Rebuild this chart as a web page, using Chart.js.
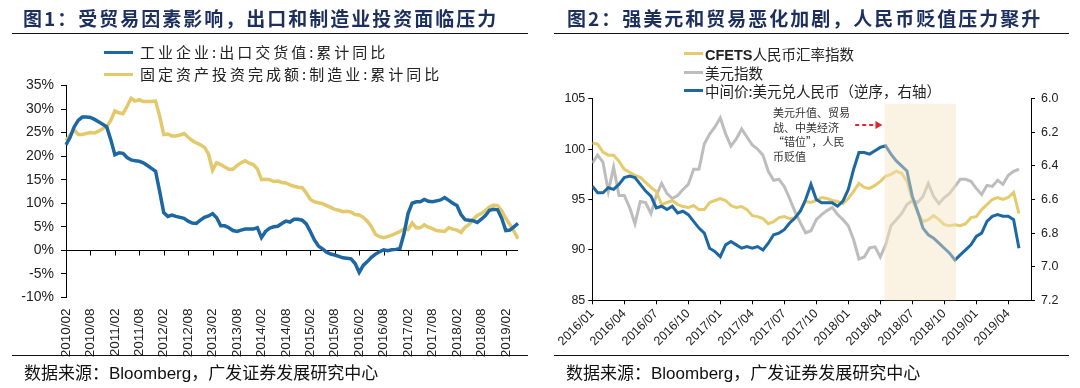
<!DOCTYPE html>
<html>
<head>
<meta charset="utf-8">
<script src="https://cdn.jsdelivr.net/npm/chart.js@4.4.1/dist/chart.umd.min.js"></script>
<style>
  body { margin:0; width:1080px; height:388px; background:#fff; position:relative; overflow:hidden;
         font-family:"Noto Sans CJK SC", sans-serif; color:#1a1a1a; }
  canvas { position:absolute; top:0; }
  .txt { position:absolute; white-space:nowrap; }
  .title { font-size:19px; font-weight:bold; letter-spacing:2px; color:#1c2f5e; line-height:24px; top:6px; }
  .rule { position:absolute; border-top:1.5px solid #111; height:0; }
  .src { font-size:17px; line-height:22px; top:361px; color:#111; }
  .src span { font-family:"Liberation Sans", Arial, sans-serif; }
  .leg { font-size:15px; line-height:20px; letter-spacing:3px; color:#222; }
  .leg2 { font-size:14.5px; line-height:19px; color:#222; }
  .swatch { position:absolute; height:3px; }
  .note { font-size:11px; line-height:14.5px; color:#333; }
</style>
</head>
<body>
<canvas id="chart1" width="540" height="388" style="left:0"></canvas>
<canvas id="chart2" width="540" height="388" style="left:540px"></canvas>

<div class="txt title" style="left:23px">图1：受贸易因素影响，出口和制造业投资面临压力</div>
<div class="rule" style="left:12px;width:516px;top:33px"></div>
<div class="swatch" style="left:104px;width:29px;top:50.5px;background:#1d67a2"></div>
<div class="txt leg" style="left:140px;top:42px">工业企业:出口交货值:累计同比</div>
<div class="swatch" style="left:104px;width:29px;top:72.5px;background:#e3c96b"></div>
<div class="txt leg" style="left:140px;top:64px">固定资产投资完成额:制造业:累计同比</div>
<div class="rule" style="left:12px;width:516px;top:355px"></div>
<div class="txt src" style="left:24px">数据来源：<span>Bloomberg</span>，广发证券发展研究中心</div>

<div class="txt title" style="left:567px">图2：强美元和贸易恶化加剧，人民币贬值压力聚升</div>
<div class="rule" style="left:554px;width:515px;top:33px"></div>
<div class="swatch" style="left:684px;width:19px;top:51.5px;background:#e5cb6c"></div>
<div class="txt leg2" style="left:705px;top:43.5px"><b style="font-family:'Liberation Sans',Arial">CFETS</b>人民币汇率指数</div>
<div class="swatch" style="left:684px;width:19px;top:70.5px;background:#bdbdbd"></div>
<div class="txt leg2" style="left:705px;top:62.5px">美元指数</div>
<div class="swatch" style="left:684px;width:19px;top:88.5px;background:#1d67a2"></div>
<div class="txt leg2" style="left:705px;top:80.5px">中间价:美元兑人民币（逆序，右轴）</div>
<div class="txt note" style="left:773px;top:105px">美元升值、贸易<br>战、中美经济<br>“错位”，人民<br>币贬值</div>
<div class="rule" style="left:554px;width:515px;top:355px"></div>
<div class="txt src" style="left:566px">数据来源：<span>Bloomberg</span>，广发证券发展研究中心</div>

<script>
// 图1: monthly, 2010/02 - 2019/05
const startYear1 = 2010, startMonth1 = 2;
const exportYoY = [
  22.4,24.0,26.2,27.6,28.3,28.3,28.2,27.8,27.3,26.8,
  26.2,23.5,20.3,20.7,20.6,19.7,19.2,19.0,18.9,18.6,
  18.0,17.4,16.8,12.5,8.0,7.2,7.5,7.2,7.0,6.8,
  6.2,5.8,5.7,6.4,7.0,7.3,7.8,6.9,5.2,5.2,
  4.8,4.2,4.0,4.3,4.5,4.5,4.5,4.8,2.7,4.0,
  4.7,5.0,5.1,5.7,6.2,6.0,6.6,6.6,6.4,5.6,
  4.0,2.2,0.9,0.3,-0.4,-0.8,-1.0,-1.3,-1.6,-1.7,
  -1.8,-2.8,-4.7,-3.2,-2.4,-1.5,-0.8,-0.3,0.1,-0.1,
  0.1,0.2,0.4,3.5,7.8,10.0,10.3,10.3,10.8,10.4,
  10.3,10.5,10.7,11.2,10.6,10.0,9.5,7.6,6.5,6.4,
  6.3,5.9,6.6,7.4,8.5,8.7,8.6,6.8,4.2,4.3,
  5.0,5.7
];
const mfgInvestYoY = [
  23.3,24.5,25.6,24.6,24.6,24.8,25.0,24.9,25.3,25.8,
  26.3,27.6,29.6,29.2,29.0,30.6,32.3,31.7,32.0,31.6,
  31.6,31.6,31.7,28.5,24.6,24.7,24.3,24.3,24.5,24.8,
  24.0,23.3,22.8,22.4,21.9,20.4,17.0,18.6,18.2,17.7,
  17.2,17.2,18.0,18.6,19.0,18.5,18.2,17.3,15.0,15.1,
  15.0,14.6,14.7,14.4,14.3,13.9,13.6,13.4,13.3,12.2,
  10.8,10.3,10.1,9.9,9.5,9.1,8.7,8.5,8.2,8.3,
  8.1,7.6,7.5,7.0,6.2,5.0,3.4,2.9,2.7,2.9,
  3.2,3.6,4.0,4.5,4.4,5.8,4.8,4.8,5.4,4.9,
  4.6,4.2,4.1,4.0,4.8,4.5,4.3,3.8,4.9,5.5,
  6.6,7.4,7.8,8.5,9.2,9.6,9.5,8.4,6.8,5.5,
  4.0,2.5
];
const tickLabels1 = ['2010/02','2010/08','2011/02','2011/08','2012/02','2012/08','2013/02','2013/08',
  '2014/02','2014/08','2015/02','2015/08','2016/02','2016/08','2017/02','2017/08','2018/02','2018/08','2019/02'];

// 图2: half-month samples from 2016/01
const sampleStep2 = 0.5;
const cfetsIndex = [
  100.6,100.5,99.7,99.4,99.4,98.8,98.0,97.7,97.4,97.2,
  96.7,96.2,95.8,94.5,94.7,94.9,94.5,94.3,94.2,94.4,
  94.0,94.0,94.7,94.9,95.1,94.9,94.4,94.2,94.3,94.0,
  93.4,93.3,93.1,92.6,92.8,93.2,93.3,93.1,93.2,93.9,
  94.8,94.7,94.9,95.2,95.1,94.9,94.8,94.6,95.1,95.8,
  96.6,96.2,96.1,96.4,96.8,97.3,97.5,97.8,97.6,96.8,
  95.0,93.7,92.8,93.0,93.4,93.0,92.5,92.4,92.5,92.4,
  92.6,93.2,93.3,94.0,94.5,95.0,95.2,95.0,95.2,95.7,
  93.6
];
const dollarIndex = [
  98.6,99.4,98.7,95.8,98.2,95.4,95.4,94.2,92.6,94.8,
  94.7,93.6,95.4,96.6,95.6,95.1,95.4,96.0,96.5,98.0,
  98.0,100.5,101.5,102.2,103.1,101.5,100.3,101.0,102.0,101.2,
  100.4,100.0,99.4,97.8,96.9,97.0,96.3,95.1,93.8,92.7,
  91.7,91.9,93.0,93.5,93.9,94.2,93.5,93.0,92.4,91.0,
  89.1,89.3,90.2,90.3,89.3,90.5,92.4,93.0,93.6,94.5,
  94.9,94.7,95.3,96.6,95.3,94.6,95.2,95.6,96.3,97.0,
  97.0,96.8,96.1,95.5,96.4,96.3,96.9,96.5,97.4,97.8,
  98.0
];
const usdCnyMid = [
  6.52,6.56,6.56,6.53,6.54,6.51,6.47,6.46,6.47,6.51,
  6.55,6.58,6.65,6.64,6.66,6.64,6.68,6.67,6.69,6.73,
  6.77,6.80,6.89,6.91,6.94,6.87,6.85,6.87,6.89,6.88,
  6.89,6.88,6.90,6.86,6.81,6.80,6.78,6.74,6.71,6.67,
  6.60,6.51,6.60,6.62,6.62,6.62,6.64,6.61,6.54,6.42,
  6.32,6.32,6.33,6.31,6.29,6.28,6.33,6.37,6.40,6.43,
  6.58,6.67,6.77,6.81,6.83,6.86,6.89,6.92,6.96,6.93,
  6.90,6.87,6.82,6.80,6.73,6.70,6.69,6.70,6.70,6.72,
  6.89
];
const tickLabels2 = ['2016/01','2016/04','2016/07','2016/10','2017/01','2017/04','2017/07',
  '2017/10','2018/01','2018/04','2018/07','2018/10','2019/01','2019/04'];
const shadeFrom = 27.4, shadeTo = 34.1, shadeTop = 104.5;   // months after 2016/01
const arrowFrom = 24.65, arrowTo = 27.2, arrowAt = 102.4;

const blue = '#1d67a2', yellow = '#e3c96b', grey = '#bdbdbd';
const tickFont = size => ({ family: '"Liberation Sans", Arial, sans-serif', size: size });

const months1 = exportYoY.map((_, i) => {
  const m = startMonth1 - 1 + i;
  return `${startYear1 + Math.floor(m / 12)}/${String(m % 12 + 1).padStart(2, '0')}`;
});

// 0% axis line with its tick marks
const zeroAxis = {
  id: 'zeroAxis',
  beforeDatasetsDraw(chart) {
    const { ctx, chartArea, scales: { x, y } } = chart;
    const y0 = Math.round(y.getPixelForValue(0)) + 0.5;
    ctx.save();
    ctx.strokeStyle = '#000';
    ctx.lineWidth = 1;
    ctx.beginPath();
    ctx.moveTo(chartArea.left, y0);
    ctx.lineTo(chartArea.right, y0);
    x.ticks.forEach((t, i) => {
      if (t.label) {
        const px = Math.round(x.getPixelForTick(i)) + 0.5;
        ctx.moveTo(px, y0);
        ctx.lineTo(px, y0 + 5);
      }
    });
    ctx.stroke();
    ctx.restore();
  }
};

// shaded period + red dashed arrow
const shadeBand = {
  id: 'shadeBand',
  afterDatasetsDraw(chart) {
    const { ctx, chartArea, scales: { x, y } } = chart;
    const x1 = x.getPixelForValue(shadeFrom), x2 = x.getPixelForValue(shadeTo);
    const top = y.getPixelForValue(shadeTop);
    ctx.save();
    ctx.fillStyle = 'rgba(245,228,192,0.45)';
    ctx.fillRect(x1, top, x2 - x1, chartArea.bottom - top);

    const ax1 = x.getPixelForValue(arrowFrom), ax2 = x.getPixelForValue(arrowTo);
    const ay = y.getPixelForValue(arrowAt);
    ctx.strokeStyle = '#e0262b';
    ctx.fillStyle = '#e0262b';
    ctx.lineWidth = 2;
    ctx.setLineDash([4, 3]);
    ctx.beginPath();
    ctx.moveTo(ax1, ay);
    ctx.lineTo(ax2 - 6, ay);
    ctx.stroke();
    ctx.setLineDash([]);
    ctx.beginPath();
    ctx.moveTo(ax2, ay);
    ctx.lineTo(ax2 - 7, ay - 4);
    ctx.lineTo(ax2 - 7, ay + 4);
    ctx.closePath();
    ctx.fill();
    ctx.restore();
  }
};

new Chart(document.getElementById('chart1'), {
  type: 'line',
  data: {
    labels: months1,
    datasets: [
      { data: exportYoY, borderColor: blue, borderWidth: 3.5, pointRadius: 0, order: 0 },
      { data: mfgInvestYoY, borderColor: yellow, borderWidth: 3.5, pointRadius: 0, order: 1 }
    ]
  },
  options: {
    responsive: false,
    animation: false,
    layout: { padding: { top: 85.5, right: 22, bottom: 30.6, left: 0 } },
    plugins: { legend: { display: false }, tooltip: { enabled: false } },
    scales: {
      x: {
        grid: { display: false },
        border: { display: false },
        ticks: {
          autoSkip: false, minRotation: 90, maxRotation: 90, padding: 3,
          color: '#222', font: tickFont(13.5),
          callback(v) {
            const l = this.getLabelForValue(v);
            return tickLabels1.includes(l) ? l : null;
          }
        },
        afterFit(s) { s.height = 60; }
      },
      y: {
        min: -10, max: 35,
        border: { display: true, color: '#000' },
        grid: { drawOnChartArea: false, tickLength: 5, color: '#000' },
        ticks: { stepSize: 5, padding: 7, color: '#222', font: tickFont(14), callback: v => v + '%' },
        afterFit(s) { s.width = 66; }
      }
    }
  },
  plugins: [zeroAxis]
});

const pts = arr => arr.map((v, i) => ({ x: i * sampleStep2, y: v }));

new Chart(document.getElementById('chart2'), {
  type: 'line',
  data: {
    datasets: [
      { data: pts(usdCnyMid), yAxisID: 'y1', borderColor: blue, borderWidth: 3, pointRadius: 0, order: 0 },
      { data: pts(cfetsIndex), yAxisID: 'y', borderColor: '#e5cb6c', borderWidth: 3, pointRadius: 0, order: 1 },
      { data: pts(dollarIndex), yAxisID: 'y', borderColor: grey, borderWidth: 3, pointRadius: 0, order: 2 }
    ]
  },
  options: {
    responsive: false,
    animation: false,
    layout: { padding: { top: 98.7, right: 0, bottom: 27.7, left: 0 } },
    plugins: { legend: { display: false }, tooltip: { enabled: false } },
    scales: {
      x: {
        type: 'linear', min: 0, max: 41.13,
        border: { display: true, color: '#000' },
        grid: { drawOnChartArea: false, tickLength: 4, color: '#000' },
        afterBuildTicks(s) { s.ticks = tickLabels2.map((_, i) => ({ value: i * 3 })); },
        ticks: {
          autoSkip: false, minRotation: 45, maxRotation: 45, padding: 2,
          color: '#222', font: tickFont(12.5),
          callback: (v, i) => tickLabels2[i]
        },
        afterFit(s) { s.height = 60; }
      },
      y: {
        position: 'left', min: 85, max: 105,
        border: { display: true, color: '#000' },
        grid: { drawOnChartArea: false, tickLength: 4, color: '#000' },
        ticks: { stepSize: 5, padding: 3, color: '#222', font: tickFont(12.5) },
        afterFit(s) { s.width = 52.3; }
      },
      y1: {
        position: 'right', min: 6.0, max: 7.2, reverse: true,
        border: { display: true, color: '#000' },
        grid: { drawOnChartArea: false, tickLength: 4, color: '#000' },
        ticks: { stepSize: 0.2, padding: 6, color: '#222', font: tickFont(12.5), callback: v => v.toFixed(1) },
        afterFit(s) { s.width = 49; }
      }
    }
  },
  plugins: [shadeBand]
});
</script>
</body>
</html>
